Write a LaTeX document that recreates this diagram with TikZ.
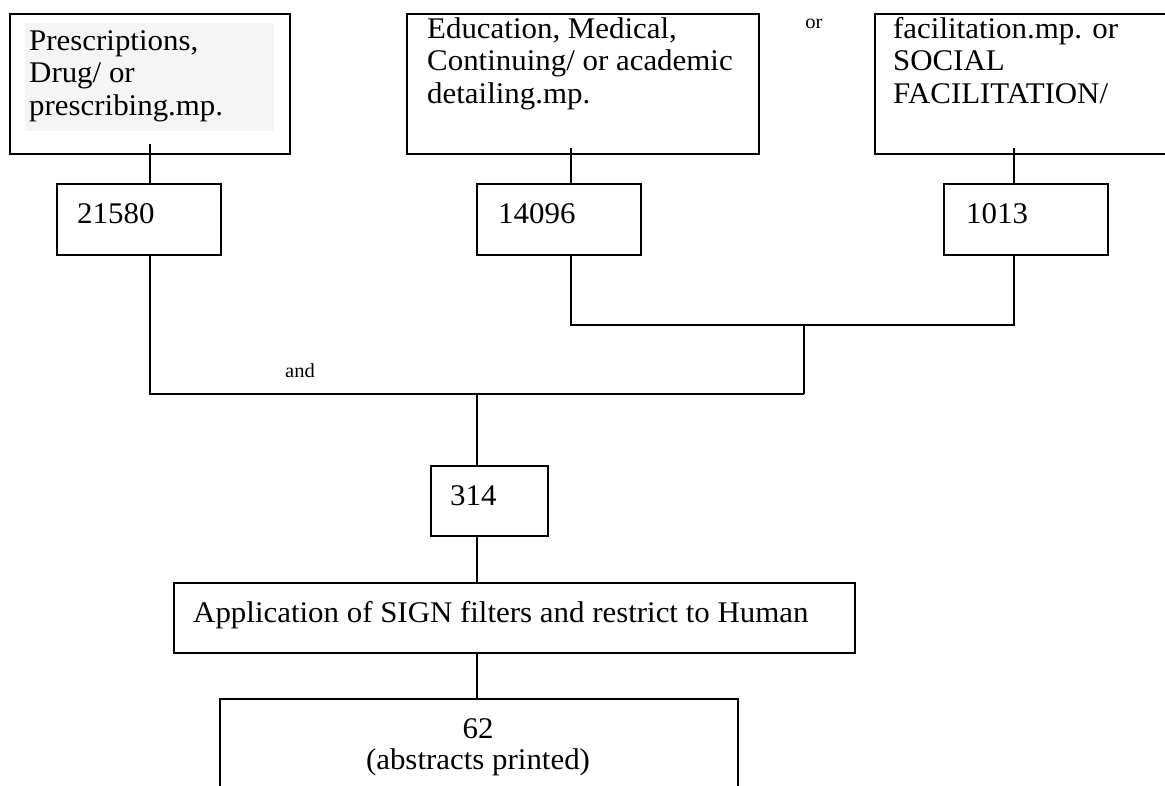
\documentclass[tikz,border=0pt]{standalone}
\usepackage{fontspec}
\setmainfont{Liberation Serif}[FakeStretch=1.03]
\tikzset{
  box/.style={draw=black, line width=1.5pt, fill=none, inner sep=0pt, anchor=north west},
  conn/.style={draw=black, line width=1.4pt},
  txt/.style={inner sep=0pt, anchor=base west, font=\fontsize{30}{32.5}\selectfont},
  ctxt/.style={inner sep=0pt, anchor=base, font=\fontsize{30}{32.5}\selectfont},
  small/.style={inner sep=0pt, anchor=base, font=\fontsize{20}{22}\selectfont},
}
\begin{document}
\begin{tikzpicture}[x=1pt,y=-1pt]
\useasboundingbox (0,0) rectangle (1165,785);
\clip (0,0) rectangle (1165,785);
% top boxes
\node[box, minimum width=280pt, minimum height=140pt] (b1) at (9,13) {};
\fill[black!4] (25,23) rectangle (274,131);
\node[txt] (t1a) at (29,50) {Prescriptions,};
\node[txt] (t1b) at (29,82.5) {Drug/ or};
\node[txt] (t1c) at (29,115) {prescribing.mp.};

\node[box, minimum width=352pt, minimum height=140pt] (b2) at (406,13) {};
\node[txt] (t2a) at (427,38) {Education, Medical,};
\node[txt] (t2b) at (427,70.5) {Continuing/ or academic};
\node[txt] (t2c) at (427,103) {detailing.mp.};

\node[small] (or) at (814,28) {or};

\node[box, minimum width=310pt, minimum height=140pt] (b3) at (874,13) {};
\node[txt] (t3a) at (893,38) {facilitation.mp. or};
\node[txt] (t3b) at (893,70.5) {SOCIAL};
\node[txt] (t3c) at (893,103) {FACILITATION/};

% count boxes
\node[box, minimum width=164pt, minimum height=71pt] (n1) at (56,183) {};
\node[txt] (t4) at (77,223) {21580};
\node[box, minimum width=164pt, minimum height=71pt] (n2) at (476,183) {};
\node[txt] (t5) at (498,223) {14096};
\node[box, minimum width=164pt, minimum height=71pt] (n3) at (943,183) {};
\node[txt] (t6) at (966,223) {1013};

\node[small] (and) at (300,377) {and};

\node[box, minimum width=117pt, minimum height=70pt] (n4) at (430,465) {};
\node[txt] (t7) at (450,505) {314};

\node[box, minimum width=681pt, minimum height=70pt] (ap) at (173,582) {};
\node[txt] (t8) at (193,622) {Application of SIGN filters and restrict to Human};

\node[box, minimum width=518pt, minimum height=110pt] (res) at (219,698) {};
\node[ctxt] (t9) at (478,738) {62};
\node[ctxt] (t10) at (478,769) {(abstracts printed)};

% connectors
\coordinate (c1) at (150,144);
\coordinate (c2) at (571,148);
\coordinate (c3) at (1014,148);
\coordinate (jor) at (804,325);
\coordinate (jand) at (804,394);
\coordinate (c4) at (477,394);

\draw[conn] (c1) -- (c1 |- n1.north);
\draw[conn] (c2) -- (c2 |- n2.north);
\draw[conn] (c3) -- (c3 |- n3.north);
\draw[conn] (c2 |- n2.south) -- (c2 |- jor) -- (c3 |- jor) -- (c3 |- n3.south);
\draw[conn] (jor) -- (jand);
\draw[conn] (c1 |- n1.south) -- (c1 |- jand) -- (jand);
\draw[conn] (c4) -- (c4 |- n4.north);
\draw[conn] (c4 |- n4.south) -- (c4 |- ap.north);
\draw[conn] (c4 |- ap.south) -- (c4 |- res.north);
\end{tikzpicture}
\end{document}
